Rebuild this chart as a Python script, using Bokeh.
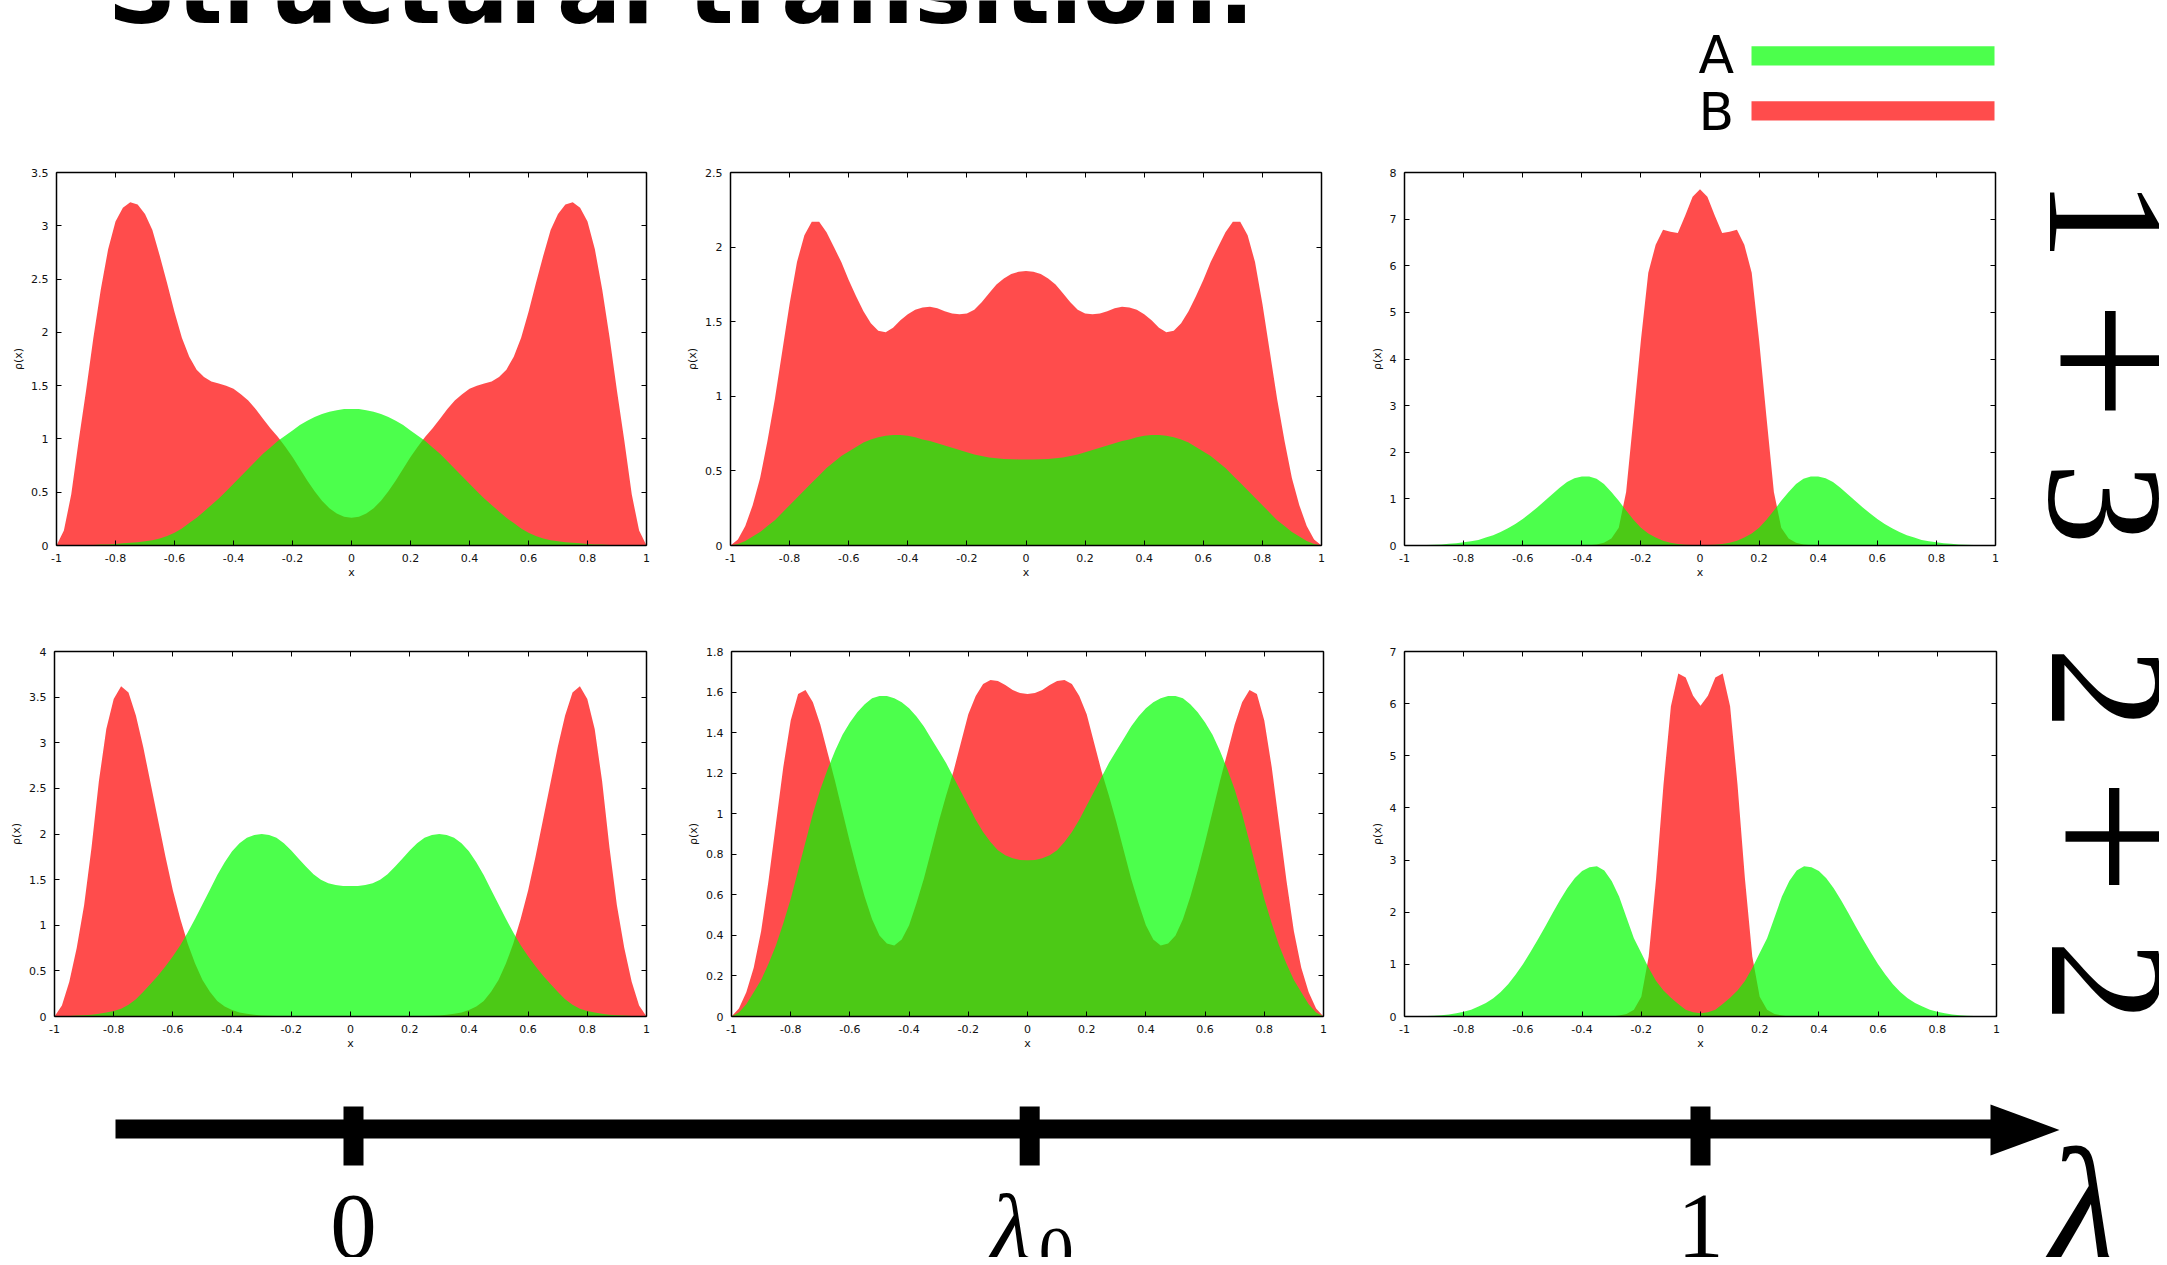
import math
import numpy as np
from bokeh.plotting import figure
from bokeh.layouts import row, column
from bokeh.models import Range1d, LinearAxis, FixedTicker, Label
from bokeh.embed import file_html
from bokeh.resources import INLINE

# ---------------- data ----------------
x_grid = np.round(np.linspace(-1.0, 1.0, 81), 4)

X_TICKS = [-1.0, -0.8, -0.6, -0.4, -0.2, 0.0, 0.2, 0.4, 0.6, 0.8, 1.0]
X_TICK_LABELS = ["-1", "-0.8", "-0.6", "-0.4", "-0.2", "0", "0.2", "0.4", "0.6", "0.8", "1"]

# panel 1 (1+3, lambda = 0)
p1_A = [0, 0, 0, 0, 0, 0.005, 0.01, 0.01, 0.015, 0.02, 0.025, 0.03, 0.04, 0.05, 0.065, 0.09, 0.12, 0.16, 0.21, 0.26,
        0.32, 0.38, 0.44, 0.51, 0.58, 0.65, 0.72, 0.79, 0.86, 0.92, 0.98, 1.03, 1.08, 1.13, 1.17, 1.205, 1.235, 1.255, 1.27, 1.28,
        1.28,
        1.28, 1.27, 1.255, 1.235, 1.205, 1.17, 1.13, 1.08, 1.03, 0.98, 0.92, 0.86, 0.79, 0.72, 0.65, 0.58, 0.51, 0.44, 0.38, 0.32,
        0.26, 0.21, 0.16, 0.12, 0.09, 0.065, 0.05, 0.04, 0.03, 0.025, 0.02, 0.015, 0.01, 0.01, 0.005, 0, 0, 0, 0, 0]
p1_B = [0.00, 0.14, 0.48, 0.98, 1.45, 1.95, 2.40, 2.78, 3.04, 3.17, 3.22, 3.20, 3.11, 2.96, 2.72, 2.46, 2.19, 1.95, 1.77, 1.65,
        1.58, 1.54, 1.52, 1.50, 1.47, 1.42, 1.36, 1.28, 1.19, 1.10, 1.02, 0.93, 0.83, 0.72, 0.61, 0.51, 0.42, 0.35, 0.30, 0.27,
        0.26,
        0.27, 0.30, 0.35, 0.42, 0.51, 0.61, 0.72, 0.83, 0.93, 1.02, 1.10, 1.19, 1.28, 1.36, 1.42, 1.47, 1.50, 1.52, 1.54, 1.58,
        1.65, 1.77, 1.95, 2.19, 2.46, 2.72, 2.96, 3.11, 3.20, 3.22, 3.17, 3.04, 2.78, 2.40, 1.95, 1.45, 0.98, 0.48, 0.14, 0.00]

# panel 2 (1+3, lambda_0)
p2_A = [0, 0.01, 0.03, 0.06, 0.09, 0.13, 0.17, 0.22, 0.27, 0.32, 0.37, 0.42, 0.47, 0.52, 0.56, 0.60, 0.63, 0.66, 0.69, 0.71,
        0.725, 0.735, 0.74, 0.74, 0.735, 0.725, 0.71, 0.70, 0.685, 0.67, 0.655, 0.64, 0.625, 0.61, 0.60, 0.59, 0.585, 0.58, 0.578, 0.577,
        0.576,
        0.577, 0.578, 0.58, 0.585, 0.59, 0.60, 0.61, 0.625, 0.64, 0.655, 0.67, 0.685, 0.70, 0.71, 0.725, 0.735, 0.74, 0.74, 0.735, 0.725,
        0.71, 0.69, 0.66, 0.63, 0.60, 0.56, 0.52, 0.47, 0.42, 0.37, 0.32, 0.27, 0.22, 0.17, 0.13, 0.09, 0.06, 0.03, 0.01, 0]
p2_B = [0, 0.04, 0.13, 0.27, 0.45, 0.70, 0.98, 1.30, 1.62, 1.90, 2.08, 2.17, 2.17, 2.10, 2.00, 1.90, 1.78, 1.67, 1.57, 1.49,
        1.44, 1.43, 1.46, 1.51, 1.55, 1.58, 1.595, 1.60, 1.59, 1.57, 1.555, 1.55, 1.555, 1.58, 1.63, 1.69, 1.75, 1.79, 1.82, 1.835,
        1.84,
        1.835, 1.82, 1.79, 1.75, 1.69, 1.63, 1.58, 1.555, 1.55, 1.555, 1.57, 1.59, 1.60, 1.595, 1.58, 1.55, 1.51, 1.46, 1.43, 1.44,
        1.49, 1.57, 1.67, 1.78, 1.90, 2.00, 2.10, 2.17, 2.17, 2.08, 1.90, 1.62, 1.30, 0.98, 0.70, 0.45, 0.27, 0.13, 0.04, 0]

# panel 3 (1+3, lambda = 1)
p3_A = [0, 0, 0.005, 0.01, 0.015, 0.02, 0.035, 0.05, 0.07, 0.09, 0.12, 0.17, 0.22, 0.29, 0.37, 0.46, 0.57, 0.69, 0.82, 0.96,
        1.10, 1.24, 1.36, 1.44, 1.48, 1.48, 1.43, 1.32, 1.15, 0.96, 0.75, 0.55, 0.38, 0.26, 0.17, 0.10, 0.06, 0.03, 0.015, 0.01,
        0.005,
        0.01, 0.015, 0.03, 0.06, 0.10, 0.17, 0.26, 0.38, 0.55, 0.75, 0.96, 1.15, 1.32, 1.43, 1.48, 1.48, 1.44, 1.36, 1.24, 1.10,
        0.96, 0.82, 0.69, 0.57, 0.46, 0.37, 0.29, 0.22, 0.17, 0.12, 0.09, 0.07, 0.05, 0.035, 0.02, 0.015, 0.01, 0.005, 0, 0]
p3_B = [0, 0, 0, 0, 0, 0, 0, 0, 0, 0, 0, 0, 0, 0, 0, 0, 0, 0, 0, 0,
        0, 0, 0, 0, 0, 0.005, 0.02, 0.06, 0.15, 0.38, 1.15, 2.75, 4.40, 5.85, 6.45, 6.77, 6.73, 6.70, 7.08, 7.48,
        7.64,
        7.48, 7.08, 6.70, 6.73, 6.77, 6.45, 5.85, 4.40, 2.75, 1.15, 0.38, 0.15, 0.06, 0.02, 0.005, 0, 0, 0, 0, 0,
        0, 0, 0, 0, 0, 0, 0, 0, 0, 0, 0, 0, 0, 0, 0, 0, 0, 0, 0, 0]

# panel 4 (2+2, lambda = 0)
p4_A = [0, 0, 0.005, 0.01, 0.015, 0.02, 0.03, 0.045, 0.06, 0.085, 0.13, 0.19, 0.27, 0.36, 0.45, 0.55, 0.66, 0.78, 0.92, 1.07,
        1.23, 1.39, 1.55, 1.69, 1.81, 1.90, 1.96, 1.99, 2.00, 1.99, 1.96, 1.90, 1.82, 1.73, 1.64, 1.56, 1.50, 1.46, 1.44, 1.43,
        1.43,
        1.43, 1.44, 1.46, 1.50, 1.56, 1.64, 1.73, 1.82, 1.90, 1.96, 1.99, 2.00, 1.99, 1.96, 1.90, 1.81, 1.69, 1.55, 1.39, 1.23,
        1.07, 0.92, 0.78, 0.66, 0.55, 0.45, 0.36, 0.27, 0.19, 0.13, 0.085, 0.06, 0.045, 0.03, 0.02, 0.015, 0.01, 0.005, 0, 0]
p4_B = [0, 0.12, 0.38, 0.75, 1.22, 1.85, 2.58, 3.15, 3.48, 3.62, 3.55, 3.30, 2.95, 2.55, 2.15, 1.75, 1.38, 1.07, 0.80, 0.58,
        0.40, 0.27, 0.17, 0.11, 0.07, 0.045, 0.03, 0.02, 0.012, 0.008, 0.005, 0, 0, 0, 0, 0, 0, 0, 0, 0,
        0,
        0, 0, 0, 0, 0, 0, 0, 0, 0, 0.005, 0.008, 0.012, 0.02, 0.03, 0.045, 0.07, 0.11, 0.17, 0.27, 0.40,
        0.58, 0.80, 1.07, 1.38, 1.75, 2.15, 2.55, 2.95, 3.30, 3.55, 3.62, 3.48, 3.15, 2.58, 1.85, 1.22, 0.75, 0.38, 0.12, 0]

# panel 5 (2+2, lambda_0)
p5_A = [0, 0.02, 0.06, 0.12, 0.18, 0.26, 0.35, 0.46, 0.58, 0.72, 0.86, 1.00, 1.12, 1.22, 1.31, 1.39, 1.45, 1.50, 1.54, 1.57,
        1.58, 1.58, 1.57, 1.55, 1.52, 1.48, 1.43, 1.37, 1.31, 1.25, 1.18, 1.11, 1.04, 0.97, 0.91, 0.86, 0.82, 0.795, 0.78, 0.772,
        0.77,
        0.772, 0.78, 0.795, 0.82, 0.86, 0.91, 0.97, 1.04, 1.11, 1.18, 1.25, 1.31, 1.37, 1.43, 1.48, 1.52, 1.55, 1.57, 1.58, 1.58,
        1.57, 1.54, 1.50, 1.45, 1.39, 1.31, 1.22, 1.12, 1.00, 0.86, 0.72, 0.58, 0.46, 0.35, 0.26, 0.18, 0.12, 0.06, 0.02, 0]
p5_B = [0, 0.04, 0.12, 0.24, 0.42, 0.67, 0.95, 1.23, 1.46, 1.59, 1.61, 1.55, 1.44, 1.30, 1.16, 1.01, 0.86, 0.72, 0.59, 0.48,
        0.40, 0.36, 0.35, 0.38, 0.45, 0.56, 0.68, 0.82, 0.96, 1.09, 1.21, 1.35, 1.49, 1.58, 1.64, 1.66, 1.655, 1.635, 1.61, 1.595,
        1.59,
        1.595, 1.61, 1.635, 1.655, 1.66, 1.64, 1.58, 1.49, 1.35, 1.21, 1.09, 0.96, 0.82, 0.68, 0.56, 0.45, 0.38, 0.35, 0.36, 0.40,
        0.48, 0.59, 0.72, 0.86, 1.01, 1.16, 1.30, 1.44, 1.55, 1.61, 1.59, 1.46, 1.23, 0.95, 0.67, 0.42, 0.24, 0.12, 0.04, 0]

# panel 6 (2+2, lambda = 1)
p6_A = [0, 0, 0.005, 0.01, 0.015, 0.025, 0.04, 0.06, 0.09, 0.13, 0.19, 0.26, 0.35, 0.47, 0.62, 0.80, 1.00, 1.23, 1.47, 1.72,
        1.98, 2.23, 2.46, 2.65, 2.79, 2.86, 2.88, 2.80, 2.60, 2.30, 1.90, 1.50, 1.22, 0.93, 0.68, 0.50, 0.36, 0.24, 0.13, 0.08,
        0.06,
        0.08, 0.13, 0.24, 0.36, 0.50, 0.68, 0.93, 1.22, 1.50, 1.90, 2.30, 2.60, 2.80, 2.88, 2.86, 2.79, 2.65, 2.46, 2.23, 1.98,
        1.72, 1.47, 1.23, 1.00, 0.80, 0.62, 0.47, 0.35, 0.26, 0.19, 0.13, 0.09, 0.06, 0.04, 0.025, 0.015, 0.01, 0.005, 0, 0]
p6_B = [0, 0, 0, 0, 0, 0, 0, 0, 0, 0, 0, 0, 0, 0, 0, 0, 0, 0, 0, 0,
        0, 0, 0, 0, 0, 0, 0, 0, 0, 0.02, 0.05, 0.13, 0.38, 1.15, 2.65, 4.45, 5.95, 6.58, 6.50, 6.15,
        5.96,
        6.15, 6.50, 6.58, 5.95, 4.45, 2.65, 1.15, 0.38, 0.13, 0.05, 0.02, 0, 0, 0, 0, 0, 0, 0, 0, 0,
        0, 0, 0, 0, 0, 0, 0, 0, 0, 0, 0, 0, 0, 0, 0, 0, 0, 0, 0, 0]

p1_y_ticks = [0.0, 0.5, 1.0, 1.5, 2.0, 2.5, 3.0, 3.5]
p1_y_labels = ["0", "0.5", "1", "1.5", "2", "2.5", "3", "3.5"]
p2_y_ticks = [0.0, 0.5, 1.0, 1.5, 2.0, 2.5]
p2_y_labels = ["0", "0.5", "1", "1.5", "2", "2.5"]
p3_y_ticks = [0, 1, 2, 3, 4, 5, 6, 7, 8]
p3_y_labels = ["0", "1", "2", "3", "4", "5", "6", "7", "8"]
p4_y_ticks = [0.0, 0.5, 1.0, 1.5, 2.0, 2.5, 3.0, 3.5, 4.0]
p4_y_labels = ["0", "0.5", "1", "1.5", "2", "2.5", "3", "3.5", "4"]
p5_y_ticks = [0.0, 0.2, 0.4, 0.6, 0.8, 1.0, 1.2, 1.4, 1.6, 1.8]
p5_y_labels = ["0", "0.2", "0.4", "0.6", "0.8", "1", "1.2", "1.4", "1.6", "1.8"]
p6_y_ticks = [0, 1, 2, 3, 4, 5, 6, 7]
p6_y_labels = ["0", "1", "2", "3", "4", "5", "6", "7"]

legend_labels = ["A", "B"]
row_labels = [["1", "+", "3"], ["2", "+", "2"]]
lambda_ticks = [0.0, 0.502, 1.0]
lambda_tick_labels = ["0", "λ", "1"]

for arr in (p1_A, p1_B, p2_A, p2_B, p3_A, p3_B, p4_A, p4_B, p5_A, p5_B, p6_A, p6_B):
    assert len(arr) == 81, len(arr)

# ---------------- style ----------------
RED = "#ff0000"
GREEN = "#00ff00"
ALPHA = 0.7
AX_FONT = "DejaVu Sans"
SERIF = "Liberation Serif"
K_SANS = 0.346    # (ascent - descent) / 2, DejaVu Sans
K_SERIF = 0.3375  # (ascent - descent) / 2, Liberation Serif


def style_axis(ax, ticks, labels):
    ax.ticker = FixedTicker(ticks=ticks)
    ax.axis_line_color = "black"
    ax.axis_line_width = 1.5
    ax.major_tick_in = 5
    ax.major_tick_out = 0
    ax.major_tick_line_color = "black"
    ax.major_tick_line_width = 1
    ax.minor_tick_line_color = None
    if labels is None:
        ax.major_label_overrides = {t: "" for t in ticks}
        ax.major_label_text_font_size = "0px"
        ax.major_label_standoff = 0
    else:
        ax.major_label_overrides = dict(zip(ticks, labels))
        ax.major_label_text_font = AX_FONT
        ax.major_label_text_font_size = "11px"
        ax.major_label_text_color = "#111111"
        ax.major_label_standoff = 8
        ax.axis_label_text_font = AX_FONT
        ax.axis_label_text_font_size = "11px"
        ax.axis_label_text_font_style = "normal"
        ax.axis_label_text_color = "#111111"


def make_panel(A, B, yticks, ylabels, geom):
    mbl, fw, mbr, mbt, fh, mbb = geom
    p = figure(width=mbl + fw + mbr, height=mbt + fh + mbb,
               x_range=Range1d(-1, 1), y_range=Range1d(yticks[0], yticks[-1]),
               output_backend="svg", toolbar_location=None, title=None,
               min_border_left=mbl, min_border_right=mbr,
               min_border_top=mbt, min_border_bottom=mbb,
               x_axis_label="x", y_axis_label="ρ(x)")
    p.outline_line_color = None
    p.grid.visible = False
    p.varea(x=x_grid, y1=0, y2=B, fill_color=RED, fill_alpha=ALPHA)
    p.varea(x=x_grid, y1=0, y2=A, fill_color=GREEN, fill_alpha=ALPHA)
    style_axis(p.xaxis[0], X_TICKS, X_TICK_LABELS)
    style_axis(p.yaxis[0], yticks, ylabels)
    p.xaxis[0].axis_label_standoff = 1
    p.yaxis[0].axis_label_standoff = 3
    top = LinearAxis()
    style_axis(top, X_TICKS, None)
    p.add_layout(top, "above")
    right = LinearAxis()
    style_axis(right, yticks, None)
    p.add_layout(right, "right")
    return p


def deco(width, height, xr, yr):
    p = figure(width=width, height=height, x_range=xr, y_range=yr,
               output_backend="svg", toolbar_location=None, title=None,
               x_axis_type=None, y_axis_type=None, min_border=0)
    p.outline_line_color = None
    p.background_fill_color = "white"
    p.border_fill_color = "white"
    return p


def text_label(x, baseline, text, font, size, k, align="left", style="normal", angle=0.0):
    # anchor at vertical middle of the text box, computed from the wanted baseline
    if angle == 0.0:
        xx, yy = x, baseline - k * size
    else:  # rotated clockwise: text "up" points to +x
        xx, yy = baseline + k * size, x
    return Label(x=xx, y=yy, text=text, text_font=font, text_font_size=f"{size}px",
                 text_font_style=style, text_color="black", text_align=align,
                 text_baseline="middle", angle=angle)


# ---------------- panels ----------------
TOP = (42, 373, 55)
BOT = (51, 365, 54)
p1 = make_panel(p1_A, p1_B, p1_y_ticks, p1_y_labels, (56, 590, 34) + TOP)
p2 = make_panel(p2_A, p2_B, p2_y_ticks, p2_y_labels, (50, 591, 35) + TOP)
p3 = make_panel(p3_A, p3_B, p3_y_ticks, p3_y_labels, (48, 591, 37) + TOP)
p4 = make_panel(p4_A, p4_B, p4_y_ticks, p4_y_labels, (54, 592, 34) + BOT)
p5 = make_panel(p5_A, p5_B, p5_y_ticks, p5_y_labels, (51, 592, 33) + BOT)
p6 = make_panel(p6_A, p6_B, p6_y_ticks, p6_y_labels, (48, 592, 36) + BOT)

# ---------------- header: title + legend ----------------
header = deco(2159, 130, Range1d(0, 2159), Range1d(130, 0))
header.add_layout(text_label(107, 23, "Structural transition:", AX_FONT, 96, K_SANS, style="bold"))
leg_y = [55.4, 110.4]
header.hbar(y=leg_y, left=1751, right=1994, height=19.3,
            fill_color=[GREEN, RED], fill_alpha=ALPHA, line_color=None)
for lab, yb in zip(legend_labels, [72.7, 129.0]):
    header.add_layout(text_label(1698, yb, lab, AX_FONT, 52, K_SANS))

# ---------------- right-hand row labels ----------------
def side(labels, fig_top, mbt, fh, mbb, centers, bases, sizes):
    frame_top = fig_top + mbt
    frame_bot = frame_top + fh
    s = deco(127, mbt + fh + mbb, Range1d(2032, 2159), Range1d(frame_bot, frame_top))
    s.min_border_top = mbt
    s.min_border_bottom = mbb
    for t, yc, xb, fs in zip(labels, centers, bases, sizes):
        s.add_layout(text_label(yc, xb, t, SERIF, fs, K_SERIF, align="center", angle=-math.pi / 2))
    return s

r1 = side(row_labels[0], 130, *TOP, [219, 360, 503], [2048, 2037, 2048], [166, 214, 166])
r2 = side(row_labels[1], 600, *BOT, [688, 836, 981], [2050, 2042, 2050], [166, 208, 166])

# ---------------- footer: lambda axis ----------------
PX0 = 353.0       # page x of lambda = 0
PXU = 1347.0      # page px per lambda unit
def lam(px):
    return (px - PX0) / PXU

footer = deco(2159, 187, Range1d(lam(0), lam(2159)), Range1d(1257, 1070))
footer.quad(left=[lam(115)], right=[lam(1992)], top=[1119], bottom=[1138],
            fill_color="black", line_color=None)
footer.patch(x=[lam(1990), lam(2059), lam(1990)], y=[1104, 1129.5, 1155],
             fill_color="black", line_color=None)
tw = 10.0 / PXU
footer.quad(left=[t - tw for t in lambda_ticks], right=[t + tw for t in lambda_ticks],
            top=1106, bottom=1165, fill_color="black", line_color=None)
for t, lab in zip(lambda_ticks, lambda_tick_labels):
    if lab == "λ":
        footer.add_layout(text_label(t + 1 / PXU, 1257, "λ", SERIF, 93, K_SERIF,
                                     align="right", style="italic"))
        footer.add_layout(text_label(t + 9 / PXU, 1275, "0", SERIF, 70, K_SERIF, align="left"))
    else:
        footer.add_layout(text_label(t, 1257, lab, SERIF, 93, K_SERIF, align="center"))
footer.add_layout(text_label(lam(2046), 1265, "λ", SERIF, 170, K_SERIF, align="left", style="italic"))

layout = column(header,
                row(p1, p2, p3, r1),
                row(p4, p5, p6, r2),
                footer)

open("out.html", "w").write(file_html(layout, INLINE))
